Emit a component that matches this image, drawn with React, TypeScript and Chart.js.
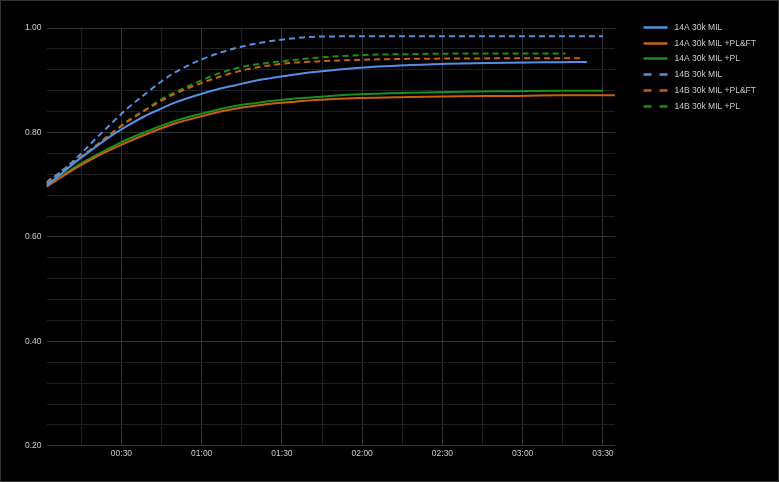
import React, { useEffect, useRef } from "react";
import { Chart, registerables } from "chart.js";

Chart.register(...registerables);

// ---- Axis ranges & tick steps (minutes / fraction) ----
const X_MIN = 2;
const X_MAX = 214.5;
const X_GRID_STEP = 15;
const X_LABEL_STEP = 30;
const Y_MIN = 0.2;
const Y_MAX = 1.0;
const Y_GRID_STEP = 0.04;
const Y_LABEL_STEP = 0.2;

// ---- Series labels ----
const LABELS = [
  "14A 30k MIL",
  "14A 30k MIL +PL&FT",
  "14A 30k MIL +PL",
  "14B 30k MIL",
  "14B 30k MIL +PL&FT",
  "14B 30k MIL +PL",
];

// ---- Series data (time in minutes, value) ----
const T_14A_MIL = [2, 8, 14, 20, 26, 32, 39, 45, 50, 60, 67, 73, 80, 86, 95, 103, 119, 138, 157, 175, 194, 204];
const V_14A_MIL = [0.698, 0.723, 0.748, 0.771, 0.793, 0.812, 0.832, 0.846, 0.857, 0.874, 0.884, 0.891, 0.899, 0.904, 0.911, 0.916, 0.924, 0.929, 0.932, 0.9335, 0.9345, 0.935];

const T_14A_PLFT = [2, 8, 14, 20, 26, 32, 39, 45, 50, 60, 67, 73, 80, 86, 95, 103, 119, 138, 157, 175, 194, 214.5];
const V_14A_PLFT = [0.696, 0.716, 0.735, 0.752, 0.767, 0.781, 0.796, 0.808, 0.817, 0.831, 0.840, 0.846, 0.851, 0.855, 0.859, 0.862, 0.866, 0.868, 0.8695, 0.870, 0.871, 0.871];

const T_14A_PL = [2, 8, 14, 20, 26, 32, 39, 45, 50, 60, 67, 73, 80, 86, 95, 103, 119, 138, 157, 175, 194, 210];
const V_14A_PL = [0.696, 0.718, 0.738, 0.755, 0.771, 0.786, 0.801, 0.813, 0.822, 0.836, 0.845, 0.851, 0.856, 0.860, 0.865, 0.868, 0.873, 0.876, 0.878, 0.879, 0.880, 0.880];

const T_14B_MIL = [2, 8, 14, 20, 26, 32, 39, 45, 50, 60, 67, 73, 80, 86, 92, 98, 104, 115, 140, 170, 210];
const V_14B_MIL = [0.702, 0.727, 0.755, 0.786, 0.816, 0.845, 0.874, 0.898, 0.915, 0.940, 0.953, 0.962, 0.970, 0.975, 0.979, 0.982, 0.9835, 0.984, 0.984, 0.984, 0.984];

const T_14B_PLFT = [2, 8, 14, 20, 26, 32, 39, 45, 50, 60, 67, 73, 80, 86, 95, 103, 119, 138, 157, 175, 202.6];
const V_14B_PLFT = [0.705, 0.727, 0.750, 0.773, 0.797, 0.820, 0.843, 0.861, 0.874, 0.895, 0.907, 0.916, 0.924, 0.929, 0.934, 0.936, 0.939, 0.941, 0.9415, 0.942, 0.942];

const T_14B_PL = [2, 8, 14, 20, 26, 32, 39, 45, 50, 60, 67, 73, 80, 86, 95, 103, 119, 138, 157, 175, 196];
const V_14B_PL = [0.705, 0.727, 0.750, 0.773, 0.797, 0.821, 0.844, 0.864, 0.877, 0.900, 0.914, 0.923, 0.930, 0.934, 0.939, 0.943, 0.948, 0.950, 0.951, 0.951, 0.951];

const SERIES_T = [T_14A_MIL, T_14A_PLFT, T_14A_PL, T_14B_MIL, T_14B_PLFT, T_14B_PL];
const SERIES_V = [V_14A_MIL, V_14A_PLFT, V_14A_PL, V_14B_MIL, V_14B_PLFT, V_14B_PL];
const COLORS = ["#5590e4", "#c8610f", "#1a8f1a", "#5590e4", "#c8610f", "#1a8f1a"];
const DASHED = [false, false, false, true, true, true];

const FONT_FAMILY = '"Liberation Sans", Arial, Helvetica, sans-serif';
const FONT_SIZE = 8.5;
const TEXT_COLOR = "#cccccc";
const GRID_MAJOR = "#333333";
const GRID_MINOR = "#1f1f1f";

function fmtTime(min: number): string {
  const h = Math.floor(min / 60);
  const m = Math.round(min - h * 60);
  return String(h).padStart(2, "0") + ":" + String(m).padStart(2, "0");
}

const isMultiple = (v: number, step: number) => Math.abs(v / step - Math.round(v / step)) < 1e-6;

const sideLegend = {
  id: "sideLegend",
  afterDraw(chart: any) {
    const { ctx, chartArea } = chart;
    ctx.save();
    ctx.font = `${FONT_SIZE}px ${FONT_FAMILY}`;
    ctx.textBaseline = "middle";
    ctx.textAlign = "left";
    chart.data.datasets.forEach((ds: any, i: number) => {
      const y = Math.round(chartArea.top - 1 + i * 15.7) + 0.5;
      const x0 = chartArea.right + 28.5;
      ctx.strokeStyle = ds.borderColor;
      ctx.lineWidth = 2.5;
      ctx.setLineDash(ds.borderDash && ds.borderDash.length ? [8, 8] : []);
      ctx.beginPath();
      ctx.moveTo(x0, y);
      ctx.lineTo(x0 + 24, y);
      ctx.stroke();
      ctx.setLineDash([]);
      ctx.fillStyle = TEXT_COLOR;
      ctx.fillText(ds.label, x0 + 31, y);
    });
    ctx.restore();
  },
};

export default function App() {
  const ref = useRef<HTMLCanvasElement | null>(null);

  useEffect(() => {
    document.body.style.margin = "0";
    document.body.style.background = "#000";
    if (!ref.current) return;

    const datasets = LABELS.map((label, i) => ({
      label,
      data: SERIES_T[i].map((t, j) => ({ x: t, y: SERIES_V[i][j] })),
      borderColor: COLORS[i],
      backgroundColor: COLORS[i],
      borderWidth: 2,
      borderDash: DASHED[i] ? [6, 4] : [],
      pointRadius: 0,
      pointHoverRadius: 0,
      cubicInterpolationMode: "monotone" as const,
      fill: false,
    }));

    const chart = new Chart(ref.current, {
      type: "line",
      data: { datasets },
      plugins: [sideLegend],
      options: {
        animation: false,
        responsive: true,
        maintainAspectRatio: false,
        layout: { padding: { left: 19, right: 163, top: 27, bottom: 19 } },
        plugins: {
          legend: { display: false },
          tooltip: { enabled: false },
        },
        scales: {
          x: {
            type: "linear",
            min: X_MIN,
            max: X_MAX,
            afterBuildTicks: (scale: any) => {
              const ticks = [];
              for (let v = X_GRID_STEP; v <= X_MAX; v += X_GRID_STEP) ticks.push({ value: v });
              scale.ticks = ticks;
            },
            border: { display: false },
            grid: {
              drawTicks: false,
              lineWidth: 1,
              color: (c: any) => (c.tick && isMultiple(c.tick.value, X_LABEL_STEP) ? GRID_MAJOR : GRID_MINOR),
            },
            ticks: {
              autoSkip: false,
              maxRotation: 0,
              padding: 3,
              color: TEXT_COLOR,
              font: { family: FONT_FAMILY, size: FONT_SIZE },
              callback: (v: any) => (isMultiple(Number(v), X_LABEL_STEP) ? fmtTime(Number(v)) : ""),
            },
          },
          y: {
            type: "linear",
            min: Y_MIN,
            max: Y_MAX,
            afterBuildTicks: (scale: any) => {
              const ticks = [];
              const n = Math.round((Y_MAX - Y_MIN) / Y_GRID_STEP);
              for (let k = 0; k <= n; k++) ticks.push({ value: +(Y_MIN + k * Y_GRID_STEP).toFixed(4) });
              scale.ticks = ticks;
            },
            border: { display: false },
            grid: {
              drawTicks: false,
              lineWidth: 1,
              color: (c: any) => (c.tick && isMultiple(c.tick.value, Y_LABEL_STEP) ? GRID_MAJOR : GRID_MINOR),
            },
            ticks: {
              autoSkip: false,
              padding: 5,
              color: TEXT_COLOR,
              font: { family: FONT_FAMILY, size: FONT_SIZE },
              callback: (v: any) => (isMultiple(Number(v), Y_LABEL_STEP) ? Number(v).toFixed(2) : ""),
            },
          },
        },
      },
    });
    return () => chart.destroy();
  }, []);

  return (
    <div
      style={{
        width: 779,
        height: 482,
        boxSizing: "border-box",
        border: "1px solid #333",
        background: "#000",
      }}
    >
      <div style={{ position: "relative", width: 777, height: 480 }}>
        <canvas ref={ref} />
      </div>
    </div>
  );
}
